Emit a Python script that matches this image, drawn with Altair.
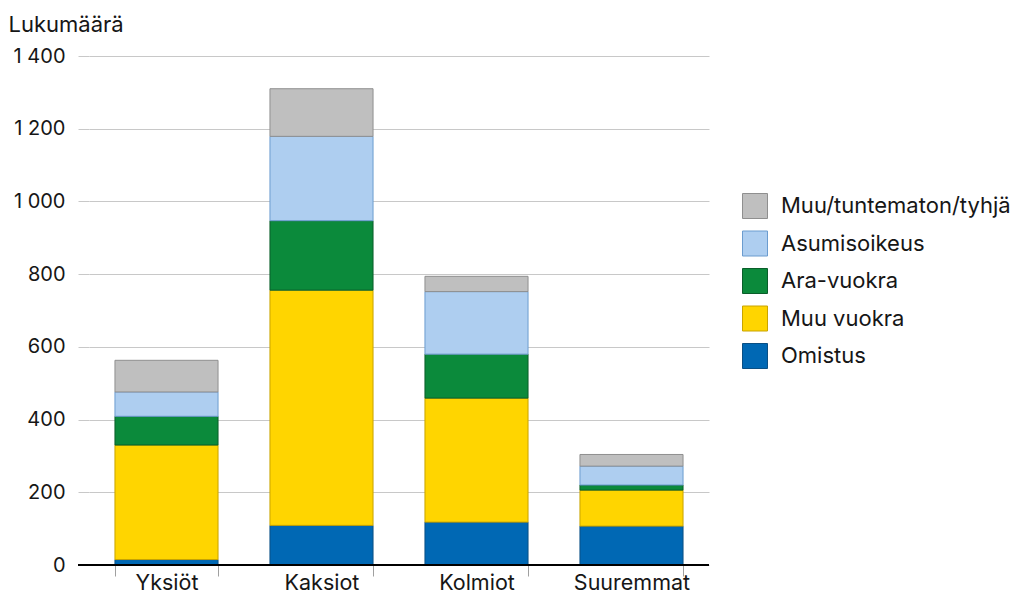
import altair as alt
import pandas as pd

categories = ["Yksiöt", "Kaksiot", "Kolmiot", "Suuremmat"]
series = ["Omistus", "Muu vuokra", "Ara-vuokra", "Asumisoikeus", "Muu/tuntematon/tyhjä"]
omistus = [15, 109, 118, 107]
muu_vuokra = [315, 647, 341, 99]
ara_vuokra = [79, 191, 121, 14]
asumisoikeus = [67, 232, 172, 52]
muu_tuntematon = [87, 131, 42, 32]
y_ticks = [0, 200, 400, 600, 800, 1000, 1200, 1400]

fills = ["#0068b4", "#ffd500", "#0b8a3b", "#aecef0", "#bfbfbf"]
strokes = ["#0a4f84", "#c9a400", "#0a5e2a", "#6b9ccf", "#8f8f8f"]

values = [omistus, muu_vuokra, ara_vuokra, asumisoikeus, muu_tuntematon]
rows = []
for si, (name, vals) in enumerate(zip(series, values)):
    for c, v in zip(categories, vals):
        rows.append({"Huoneistotyyppi": c, "Hallintamuoto": name, "Lukumäärä": v, "järjestys": si})
df = pd.DataFrame(rows)

legend_order = list(reversed(series))
legend_fill = list(reversed(fills))
legend_stroke = list(reversed(strokes))

FONT = "Inter"
TXT = "#161616"

bars = alt.Chart(df).mark_bar(strokeWidth=1).encode(
    x=alt.X("Huoneistotyyppi:N", sort=categories,
            scale=alt.Scale(paddingInner=0.335, paddingOuter=0.1675),
            axis=alt.Axis(title=None, labelAngle=0, labelFontSize=21.5, labelColor=TXT,
                          labelPadding=-4, tickBand="extent", tickSize=11, tickColor="#a0a0a0",
                          domain=False, grid=False, labelFont=FONT)),
    y=alt.Y("Lukumäärä:Q", stack="zero",
            scale=alt.Scale(domain=[0, 1400], nice=False),
            axis=alt.Axis(values=y_ticks, title="Lukumäärä", titleAngle=0, titleAlign="left",
                          titleBaseline="alphabetic", titleX=-81, titleY=-25, titleFontSize=22,
                          titleFontWeight="normal", titleFont=FONT, titleColor=TXT,
                          labelFontSize=20, labelFont=FONT, labelColor=TXT, labelPadding=13,
                          labelExpr="replace(format(datum.value, ','), ',', ' ')",
                          tickSize=11, tickColor="#c8c8c8", gridColor="#c8c8c8", domain=False)),
    color=alt.Color("Hallintamuoto:N", sort=legend_order,
                    scale=alt.Scale(domain=legend_order, range=legend_fill),
                    legend=alt.Legend(title=None, orient="none", legendX=653, legendY=137,
                                      symbolType="square", symbolSize=625, symbolStrokeWidth=1,
                                      labelFontSize=22, labelFont=FONT, labelColor=TXT,
                                      labelOffset=13, rowPadding=7.5, padding=0, labelLimit=400)),
    stroke=alt.Stroke("Hallintamuoto:N", sort=legend_order,
                      scale=alt.Scale(domain=legend_order, range=legend_stroke), legend=None),
    order=alt.Order("järjestys:Q", sort="ascending"),
)

base_df = pd.DataFrame({"y": [0]})
baseline = alt.Chart(base_df).mark_rule(color="#000000", strokeWidth=2).encode(
    y="y:Q", x=alt.value(-11), x2=alt.value(620)
)

chart = alt.layer(bars, baseline).properties(
    width=620, height=509, padding={"left": 0, "top": 5, "right": 0, "bottom": 0}
).configure(font=FONT).configure_view(stroke=None)

chart.save("out.html", embed_options={"renderer": "svg", "actions": False})
